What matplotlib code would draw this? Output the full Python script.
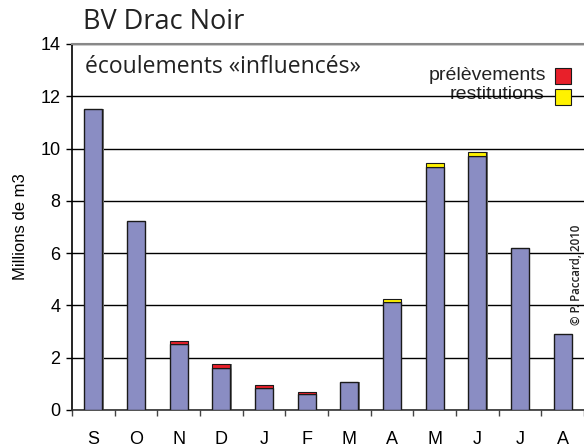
#!/usr/bin/env python3
"""
Monthly flows for the Drac Noir basin: natural flow bars with
withdrawals (prélèvements) and returns (restitutions) stacked on top.
"""
import matplotlib
matplotlib.use("Agg")
import matplotlib.pyplot as plt
from matplotlib.patches import Rectangle

months = ["S", "O", "N", "D", "J", "F", "M", "A", "M", "J", "J", "A"]
ecoulements = [11.5, 7.22, 2.54, 1.6, 0.85, 0.6, 1.08, 4.12, 9.3, 9.72, 6.21, 2.9]
prelevements = [0, 0, 0.1, 0.15, 0.09, 0.08, 0, 0, 0, 0, 0, 0]
restitutions = [0, 0, 0, 0, 0, 0, 0, 0.14, 0.13, 0.14, 0, 0]
y_ticks = [0, 2, 4, 6, 8, 10, 12, 14]

BLUE = "#8A8DC3"
RED = "#E8202A"
YELLOW = "#FFF200"

fig = plt.figure(figsize=(5.84, 4.47), dpi=100)
ax = fig.add_axes([0.1233, 0.0828, 0.8767, 0.8188])

x = [i + 0.5 for i in range(len(months))]
width = 0.42

# light shadow behind each column
totals = [e + p + r for e, p, r in zip(ecoulements, prelevements, restitutions)]
ax.bar([xi + 0.03 for xi in x], totals, width=width, color="#777777",
       edgecolor="none", zorder=2)
ax.bar(x, ecoulements, width=width, color=BLUE, edgecolor="#1a1a1a",
       linewidth=1.0, zorder=3)
ax.bar(x, prelevements, width=width, bottom=ecoulements, color=RED,
       edgecolor="#1a1a1a", linewidth=0.8, zorder=3)
ax.bar(x, restitutions, width=width, bottom=ecoulements, color=YELLOW,
       edgecolor="#1a1a1a", linewidth=0.8, zorder=3)
# hide zero-height segments' outlines
for container in ax.containers[2:]:
    for patch in container:
        if patch.get_height() == 0:
            patch.set_visible(False)

ax.set_xlim(0, 12)
ax.set_ylim(0, 14)
ax.set_yticks(y_ticks)
ax.yaxis.grid(True, color="black", linewidth=1.0, zorder=1)
ax.set_axisbelow(True)

ax.set_xticks(range(13))
ax.set_xticklabels([])
ax.set_xticks(x, minor=True)
ax.set_xticklabels(months, minor=True, fontsize=13, family="Liberation Sans")
ax.tick_params(axis="x", which="major", length=4.3, width=1.0, color="#444444",
               direction="out")
ax.tick_params(axis="x", which="minor", length=0, pad=15)
ax.tick_params(axis="y", length=4.3, width=1.0, direction="out", pad=4,
               labelsize=13)
for lbl in ax.get_yticklabels():
    lbl.set_family("Liberation Sans")

ax.spines["right"].set_visible(False)
ax.spines["top"].set_color("#888888")
ax.spines["top"].set_linewidth(1.5)
ax.spines["left"].set_linewidth(1.2)
ax.spines["bottom"].set_linewidth(1.2)
ax.spines["bottom"].set_color("#333333")

ax.set_ylabel("Millions de m3", fontsize=12, family="Liberation Sans",
              labelpad=9)

fig.text(0.142, 0.951, "BV Drac Noir", fontsize=19.5, family="Open Sans",
         va="center", ha="left", color="#222222")
ax.text(0.3, 13.12, "écoulements «influencés»", fontsize=16.5,
        family="Open Sans", va="center", ha="left", color="#222222")

# legend entries drawn by hand in the top band
ax.text(11.12, 12.78, "prélèvements", fontsize=14, family="Liberation Sans",
        ha="right", va="center", color="#222222")
ax.text(11.06, 12.08, "restitutions", fontsize=14, family="Liberation Sans",
        ha="right", va="center", color="#222222", zorder=0)
ax.add_patch(Rectangle((11.32, 12.47), 0.375, 0.61, facecolor=RED,
                       edgecolor="#1a1a1a", linewidth=0.8, zorder=4))
ax.add_patch(Rectangle((11.32, 11.65), 0.375, 0.61, facecolor=YELLOW,
                       edgecolor="#1a1a1a", linewidth=0.8, zorder=4))

fig.text(0.988, 0.385, "© P. Paccard, 2010", rotation=90, fontsize=8.3,
         family="Open Sans", weight="semibold", ha="center", va="center",
         color="#222222")

fig.savefig("out.png", dpi=100)
